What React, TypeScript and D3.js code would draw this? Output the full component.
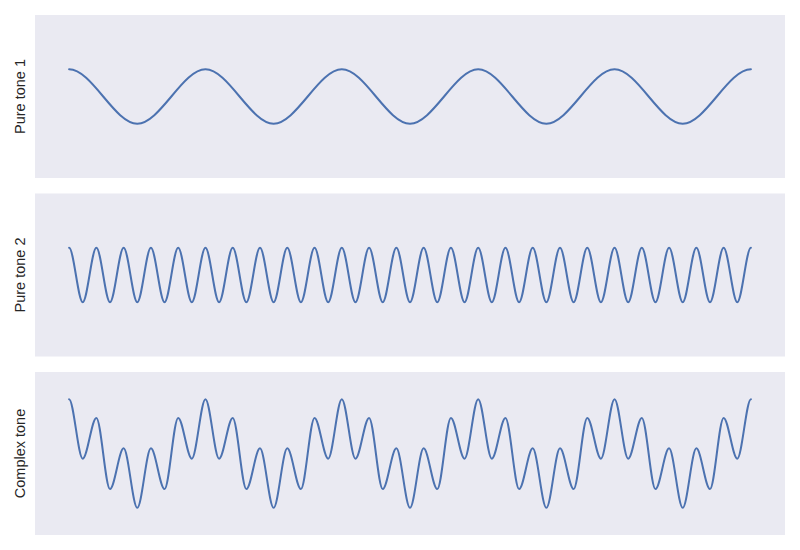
import * as d3 from 'd3';
import { type FC } from 'react';

// Extreme values (peaks / troughs), left to right, over 1 s.
const pureTone1 = [1, -1, 1, -1, 1, -1, 1, -1, 1, -1, 1];

const pureTone2 = [
  1, -1, 1, -1, 1, -1, 1, -1, 1, -1,
  1, -1, 1, -1, 1, -1, 1, -1, 1, -1,
  1, -1, 1, -1, 1, -1, 1, -1, 1, -1,
  1, -1, 1, -1, 1, -1, 1, -1, 1, -1,
  1, -1, 1, -1, 1, -1, 1, -1, 1, -1,
  1,
];

const complexTone = [
  2, -0.19, 1.31, -1.31, 0.19, -2, 0.19, -1.31, 1.31, -0.19,
  2, -0.19, 1.31, -1.31, 0.19, -2, 0.19, -1.31, 1.31, -0.19,
  2, -0.19, 1.31, -1.31, 0.19, -2, 0.19, -1.31, 1.31, -0.19,
  2, -0.19, 1.31, -1.31, 0.19, -2, 0.19, -1.31, 1.31, -0.19,
  2, -0.19, 1.31, -1.31, 0.19, -2, 0.19, -1.31, 1.31, -0.19,
  2,
];

const panelLabels = ['Pure tone 1', 'Pure tone 2', 'Complex tone'];
const panelSeries = [pureTone1, pureTone2, complexTone];

const W = 800;
const H = 550;
const left = 35;
const right = 785;
const panelTops = [15, 193.5, 372];
const panelH = 163;
const bg = '#EAEAF2';
const lineColor = '#4C72B0';

// Smooth curve with flat tangents at every extreme (cubic Hermite, zero slopes).
const curveFlat = (context: any) => {
  let x0 = 0;
  let y0 = 0;
  let n = 0;
  return {
    areaStart() {},
    areaEnd() {},
    lineStart() {
      n = 0;
    },
    lineEnd() {},
    point(x: number, y: number) {
      if (n++ === 0) {
        context.moveTo(x, y);
      } else {
        const dx = (x - x0) / 3;
        context.bezierCurveTo(x0 + dx, y0, x - dx, y, x, y);
      }
      x0 = x;
      y0 = y;
    },
  };
};

const App: FC = () => {
  const x = d3.scaleLinear().domain([-0.05, 1.05]).range([left, right]);

  return (
    <svg
      width={W}
      height={H}
      style={{ position: 'absolute', left: 0, top: 0, background: '#fff' }}
      fontFamily="'Liberation Sans', Arial, sans-serif"
    >
      {panelSeries.map((series, i) => {
        const top = panelTops[i];
        const y = d3.scaleLinear().domain([-3, 3]).range([top + panelH, top]);
        const line = d3
          .line<number>()
          .x((_, j) => x(j / (series.length - 1)))
          .y((d) => y(d))
          .curve(curveFlat as any);
        return (
          <g key={panelLabels[i]}>
            <rect x={left} y={top} width={right - left} height={panelH} fill={bg} />
            <path
              d={line(series) || ''}
              fill="none"
              stroke={lineColor}
              strokeWidth={2}
              strokeLinecap="round"
            />
            <text
              transform={`translate(25,${top + panelH / 2}) rotate(-90)`}
              textAnchor="middle"
              fontSize={14.5}
              fill="#262626"
            >
              {panelLabels[i]}
            </text>
          </g>
        );
      })}
    </svg>
  );
};

export default App;
